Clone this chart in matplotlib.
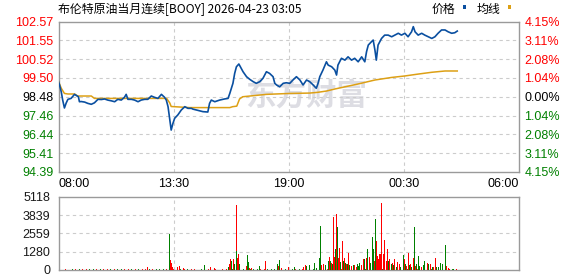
import matplotlib
matplotlib.use('Agg')
import matplotlib.pyplot as plt
from matplotlib.patches import Rectangle
import numpy as np

# ---------------- data ----------------
title = "布伦特原油当月连续[BOOY] 2026-04-23 03:05"
legend_labels = ["价格", "均线"]
prev_close = 98.48
price_labels = ["102.57", "101.55", "100.52", "99.50", "98.48", "97.46", "96.44", "95.41", "94.39"]
pct_labels = ["4.15%", "3.11%", "2.08%", "1.04%", "0.00%", "1.04%", "2.08%", "3.11%", "4.15%"]
price_min, price_max = 94.39, 102.57
xtick_minutes = [0, 330, 660, 990, 1320]        # minutes after 08:00
xtick_labels = ["08:00", "13:30", "19:00", "00:30", "06:00"]
vol_ticks = [0, 1280, 2559, 3839, 5118]
vol_labels = ["0", "1280", "2559", "3839", "5118"]

# price line (minutes after 08:00, price)
price_t = [0, 3, 8, 12, 17, 22, 27, 36, 46, 51, 57, 60, 65, 75, 84, 94, 103, 113, 123, 132,
           141, 151, 161, 170, 180, 189, 194, 199, 209, 218, 228, 237, 247, 256, 266, 275, 285, 295, 304, 309,
           314, 319, 323, 328, 333, 342, 352, 362, 371, 381, 385, 395, 414, 428, 433, 438, 448, 462, 476, 486,
           491, 500, 505, 510, 517, 524, 529, 539, 548, 558, 567, 577, 586, 596, 605, 615, 620, 625, 634, 644,
           653, 663, 672, 682, 692, 701, 711, 720, 730, 739, 744, 749, 758, 768, 773, 783, 792, 797, 801, 811,
           821, 830, 840, 849, 859, 869, 878, 883, 888, 897, 902, 907, 911, 916, 926, 935, 945, 955, 964, 974,
           983, 993, 1002, 1012, 1017, 1022, 1031, 1041, 1050, 1060, 1070, 1079, 1088, 1098, 1108, 1117, 1127, 1136, 1143]
price_v = [99.30, 99.12, 98.74, 98.30, 97.87, 98.14, 98.34, 98.39, 98.61, 98.55, 98.48, 98.21, 98.22, 98.19, 98.12, 98.07, 98.15, 98.34, 98.33, 98.36,
           98.30, 98.26, 98.21, 98.34, 98.30, 98.45, 98.61, 98.34, 98.34, 98.30, 98.21, 98.30, 98.34, 98.34, 98.52, 98.45, 98.39, 98.61, 98.45, 98.30,
           97.94, 97.21, 96.67, 97.03, 97.31, 97.49, 97.76, 97.94, 97.85, 97.85, 97.81, 97.76, 97.67, 97.65, 98.12, 98.30, 98.21, 98.30, 98.36, 98.39,
           98.66, 99.21, 99.75, 100.11, 100.26, 100.02, 99.84, 99.57, 99.43, 99.30, 99.21, 99.30, 99.48, 99.84, 99.75, 99.57, 99.21, 99.12, 99.02, 99.21,
           99.24, 99.21, 99.39, 99.57, 99.39, 99.12, 99.39, 99.30, 99.12, 98.94, 99.21, 99.57, 99.93, 100.38, 100.20, 100.11, 99.93, 99.66, 100.20, 100.57,
           100.47, 100.65, 100.47, 100.57, 100.38, 100.65, 100.38, 100.93, 101.29, 101.47, 101.56, 101.02, 100.47, 101.29, 101.65, 101.83, 101.83, 101.74, 101.83, 101.93,
           101.83, 101.93, 101.74, 102.01, 102.29, 102.01, 101.83, 101.93, 101.83, 101.74, 101.65, 101.74, 101.93, 102.11, 102.11, 102.01, 101.93, 101.96, 102.05]

# average line
avg_t = [0, 3, 8, 17, 27, 46, 55, 94, 103, 310, 319, 323, 376, 491, 499, 511, 519, 528, 596, 663,
         720, 743, 768, 792, 821, 858, 907, 955, 993, 1030, 1070, 1108, 1143]
avg_v = [99.30, 99.17, 98.94, 98.66, 98.63, 98.63, 98.52, 98.52, 98.39, 98.39, 98.14, 97.95, 97.89, 97.89, 97.94, 97.97, 98.36, 98.48, 98.61, 98.66,
         98.68, 98.72, 98.79, 98.90, 99.02, 99.17, 99.39, 99.53, 99.61, 99.71, 99.81, 99.88, 99.88]

# volume bars (minutes after 08:00, volume, r=up / g=down)
vol_t = [255, 317, 321, 324, 328, 340, 347, 359, 419, 436, 448, 460, 481, 486, 491, 494, 497, 501, 505, 509,
         511, 514, 517, 519, 523, 539, 541, 545, 548, 552, 575, 594, 627, 630, 634, 639, 658, 677, 701, 708,
         711, 720, 733, 739, 747, 750, 753, 759, 761, 765, 773, 778, 780, 783, 786, 789, 792, 795, 798, 800,
         803, 806, 809, 813, 816, 819, 822, 825, 828, 831, 835, 840, 845, 848, 854, 858, 861, 864, 868, 870,
         874, 878, 882, 886, 890, 892, 895, 899, 902, 905, 909, 912, 914, 917, 921, 924, 927, 931, 934, 936,
         940, 943, 946, 950, 954, 957, 959, 964, 969, 973, 977, 980, 988, 991, 995, 998, 1002, 1005, 1009, 1012,
         1017, 1020, 1023, 1026, 1031, 1035, 1041, 1045, 1050, 1057, 1061, 1065, 1067, 1072, 1076, 1080, 1084, 1088, 1096, 1101,
         1105, 1109, 1112, 1117, 1122, 1132, 1141]
vol_v = [230, 2547, 701, 514, 234, 210, 280, 164, 351, 234, 164, 93, 93, 210, 397, 795, 631, 748, 444, 4557,
         1332, 864, 1098, 397, 280, 280, 1052, 561, 164, 164, 280, 631, 421, 280, 701, 164, 234, 210, 234, 327,
         257, 327, 491, 164, 841, 3085, 351, 421, 864, 351, 631, 935, 631, 514, 397, 3692, 911, 1496, 3926, 2968,
         864, 1566, 561, 2033, 631, 864, 514, 444, 397, 1169, 327, 280, 351, 351, 234, 397, 280, 514, 374, 2454,
         748, 748, 864, 1496, 2874, 911, 467, 2314, 1449, 631, 3576, 2033, 982, 748, 1098, 1098, 4697, 1098, 2103, 514,
         631, 1496, 631, 748, 397, 514, 327, 748, 210, 561, 397, 210, 1052, 748, 397, 280, 1169, 351, 397, 210,
         864, 3015, 280, 397, 982, 280, 234, 327, 631, 514, 397, 2384, 397, 234, 234, 864, 234, 210, 514, 397,
         327, 1753, 280, 164, 93, 93, 93]
vol_dir = ("rgrrrrrrgrrrrgrrgrgr"
           "grrgrrggrrgrgrgrrgrr"
           "ggggggrrrggrgrgrrgrg"
           "rrgrgrgrgrgrgrrgggrg"
           "rgrgrrgggrgrrrrrrrrg"
           "rrgrgrgrgrrggrgrrgrg"
           "rgrgggrggrgrrgrrgggg"
           "rgrrr" "gr")

# tiny volumes along the bottom, every 10 minutes from 08:00
base_vol = [70, 60, 80, 50, 60, 70, 90, 60, 50, 70,
            60, 80, 70, 50, 60, 90, 70, 60, 80, 50,
            70, 60, 50, 80, 60, 70, 60, 90, 50, 70,
            80, 60, 70, 50, 90, 60, 70, 80, 60, 50,
            60, 70, 80, 60, 50, 70, 90, 60, 70, 80,
            50, 60, 70, 80, 60, 90, 70, 50, 60, 80,
            70, 60, 90, 50, 70, 80, 60, 70, 50, 60,
            90, 70, 60, 80, 50, 70, 60, 80, 70, 60,
            50, 80, 70, 60, 90, 60, 70, 50, 80, 60,
            70, 60, 80, 50, 70, 90, 60, 70, 60, 80,
            60, 70, 50, 80, 60, 90, 70, 60, 80, 50,
            70, 60, 80, 60, 90]
base_dir = ("rgrggrgrrg" "grgrrgrggr" "rgrgrrgrgg" "grgrggrgrr" "rggrgrgrgg"
            "grrgrgggrr" "gggrrgrgrg" "rgrgrrgrgg" "grgrgrrggr" "rgrggrgrrg"
            "grgrrgrgrg" "rgrgg")

# ---------------- style ----------------
W, H = 578, 276
RED, GREEN, BLACK = '#FF0000', '#008000', '#000000'
BLUE, GOLD = '#0A4FA0', '#DDA015'
GRID, SPINE = '#CCCCCC', '#9A9A9A'
LAT = ['Liberation Sans', 'DejaVu Sans']
CJK = ['Noto Sans CJK SC', 'DejaVu Sans']
FS = 9

fig = plt.figure(figsize=(W / 100, H / 100), dpi=100)
left, right = 58.5 / W, 519 / W
ax = fig.add_axes([left, 1 - 172 / H, right - left, (172 - 21.5) / H])
axv = fig.add_axes([left, 1 - 270 / H, right - left, (270 - 196.7) / H])


def grid(a, ys):
    for y in ys:
        a.axhline(y, color=GRID, lw=0.8, dashes=(3, 3), zorder=1)
    for t in xtick_minutes[1:-1]:
        a.axvline(t, color=GRID, lw=0.8, dashes=(3, 3), zorder=1)


levels = np.linspace(price_min, price_max, len(price_labels))[::-1]
for a in (ax, axv):
    a.set_xlim(0, 1320)
    for s in a.spines.values():
        s.set_color(SPINE)
        s.set_linewidth(1.0)
    a.tick_params(length=0)

# main price panel
ax.set_ylim(price_min, price_max)
grid(ax, levels[1:-1])
ax.plot(avg_t, avg_v, color=GOLD, lw=1.1, zorder=3)
ax.plot(price_t, price_v, color=BLUE, lw=1.2, zorder=4)
ax.text(245 / W, 1 - 96 / H, "东方财富", transform=fig.transFigure, fontsize=22,
        family=CJK, weight='bold', style='italic', color='#DDDDE3', va='center', zorder=0.5)

ax.set_yticks(levels)
ax.set_yticklabels(price_labels, family=LAT, fontsize=FS)
ax.tick_params(axis='y', pad=3.5)
for i, lab in enumerate(ax.get_yticklabels()):
    lab.set_color(RED if i < 4 else (BLACK if i == 4 else GREEN))

axr = ax.twinx()
axr.set_ylim(price_min, price_max)
axr.set_yticks(levels)
axr.set_yticklabels(pct_labels, family=LAT, fontsize=FS)
axr.tick_params(length=0, pad=4)
for s in axr.spines.values():
    s.set_visible(False)
for i, lab in enumerate(axr.get_yticklabels()):
    lab.set_color(RED if i < 4 else (BLACK if i == 4 else GREEN))

ax.set_xticks(xtick_minutes)
ax.set_xticklabels(xtick_labels, family=LAT, fontsize=FS)
ax.tick_params(axis='x', pad=4)
xl = ax.get_xticklabels()
xl[0].set_ha('left')
xl[-1].set_ha('right')

# volume panel
axv.set_ylim(0, vol_ticks[-1])
grid(axv, vol_ticks[1:-1])
base_t = list(range(0, 10 * len(base_vol), 10))
axv.bar(base_t, base_vol, width=2.6, color=[RED if d == 'r' else GREEN for d in base_dir],
        linewidth=0, zorder=2)
axv.bar(vol_t, vol_v, width=2.6, color=[RED if d == 'r' else GREEN for d in vol_dir],
        linewidth=0, zorder=3)
axv.set_xticks([])
axv.set_yticks(vol_ticks)
axv.set_yticklabels(vol_labels, family=LAT, fontsize=FS, color='#1A1A1A')
axv.tick_params(axis='y', pad=6)

# title and legend
fig.text(58 / W, 1 - 9.5 / H, title, fontsize=8.6, family=CJK, va='center', ha='left')
fig.text(431.5 / W, 1 - 9.5 / H, legend_labels[0], fontsize=8.6, family=CJK, va='center', ha='left')
fig.text(476.5 / W, 1 - 9.5 / H, legend_labels[1], fontsize=8.6, family=CJK, va='center', ha='left')
for x0, c in ((462.5, BLUE), (507.5, GOLD)):
    fig.add_artist(Rectangle((x0 / W, 1 - 8.5 / H), 3.5 / W, 3.5 / H,
                             transform=fig.transFigure, color=c, lw=0))

fig.savefig('out.png', dpi=100)
